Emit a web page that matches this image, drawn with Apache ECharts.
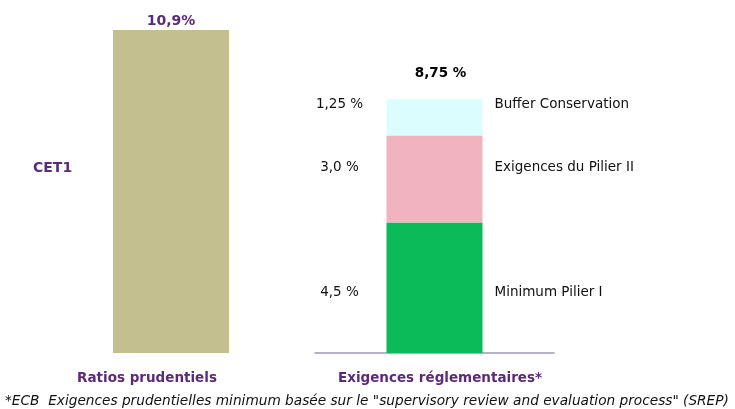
<!DOCTYPE html>
<html>
<head>
<meta charset="utf-8">
<script src="https://cdn.jsdelivr.net/npm/echarts@6/dist/echarts.min.js"></script>
<style>
    html, body { margin: 0; padding: 0; background: #fff; }
    #chart { width: 735px; height: 409px; }
</style>
</head>
<body>
<div id="chart"></div>
<script>
// categories
const categories = ['Ratios prudentiels', 'Exigences réglementaires*']
// ratio CET1 (barre de gauche)
const cet1Values = [10.9]
const cet1Label = '10,9%'
// exigences (barre empilée, du bas vers le haut)
const segmentNames = ['Minimum Pilier I', 'Exigences du Pilier II', 'Buffer Conservation']
const segmentValues = [4.5, 3.0, 1.25]
const segmentLabels = ['4,5 %', '3,0 %', '1,25 %']
const footnote = '*ECB  Exigences prudentielles minimum basée sur le "supervisory review and evaluation process" (SREP)'

const FONT = 'DejaVu Sans'
const PURPLE = '#5b2a7a'
const segmentColors = ['#0bbb59', '#f2b3c0', '#dcfdfd']
const labelDy = [70, 32, 5]

const total = segmentValues.reduce((a, b) => a + b, 0)
const frNum = v => v.toFixed(2).replace('.', ',')

const chart = echarts.init(document.getElementById('chart'))

const stackSeries = segmentValues.map((v, i) => ({
    type: 'bar',
    xAxisIndex: 1,
    yAxisIndex: 1,
    stack: 'req',
    barWidth: 96,
    data: [v],
    itemStyle: { color: segmentColors[i] },
    label: {
        show: true,
        position: [-82, labelDy[i]],
        align: 'left',
        verticalAlign: 'middle',
        formatter: '{l|' + segmentLabels[i] + '}{g|}{r|' + segmentNames[i] + '}',
        rich: {
            l: { width: 70, align: 'right', fontFamily: FONT, fontSize: 13.5, color: '#111' },
            g: { width: 120 },
            r: { align: 'left', fontFamily: FONT, fontSize: 13.5, color: '#111' }
        }
    }
}))

const titleStyle = {
    fontFamily: FONT, fontSize: 13.5, fontWeight: 'bold', color: PURPLE
}

chart.setOption({
    animation: false,
    grid: [
        { left: 113, width: 116, top: 30, height: 323 },
        { left: 315, width: 239, top: 30, height: 323 }
    ],
    xAxis: [
        {
            gridIndex: 0, type: 'category', data: [categories[0]],
            axisLine: { show: false }, axisTick: { show: false }, axisLabel: { show: false }
        },
        {
            gridIndex: 1, type: 'category', data: [categories[1]],
            axisLine: { lineStyle: { color: '#a597ba', width: 1.5 } },
            axisTick: { show: false }, axisLabel: { show: false }
        }
    ],
    yAxis: [
        { gridIndex: 0, type: 'value', min: 0, max: 10.9, show: false, splitLine: { show: false } },
        { gridIndex: 1, type: 'value', min: 0, max: 11.14, show: false, splitLine: { show: false } }
    ],
    title: [
        {
            text: 'CET1', left: 33, top: 161, padding: 0,
            textStyle: { ...titleStyle, fontSize: 14 }
        },
        {
            text: categories[0], left: 147, top: 371, padding: 0, textAlign: 'center',
            textStyle: titleStyle
        },
        {
            text: categories[1], left: 440, top: 371, padding: 0, textAlign: 'center',
            textStyle: titleStyle
        },
        {
            text: footnote, left: 5, top: 394, padding: 0,
            textStyle: { fontFamily: FONT, fontSize: 13.7, fontWeight: 'normal', fontStyle: 'italic', color: '#111' }
        }
    ],
    series: [
        {
            type: 'bar',
            xAxisIndex: 0,
            yAxisIndex: 0,
            barWidth: '100%',
            data: cet1Values,
            itemStyle: { color: '#c4bf8e' },
            label: {
                show: true, position: 'top', distance: 2,
                formatter: cet1Label,
                fontFamily: FONT, fontSize: 14, fontWeight: 'bold', color: PURPLE
            }
        },
        ...stackSeries,
        {
            type: 'bar',
            xAxisIndex: 1,
            yAxisIndex: 1,
            stack: 'req',
            barWidth: 96,
            data: [0],
            itemStyle: { color: 'transparent' },
            label: {
                show: true, position: 'top', distance: 19, offset: [6, 0],
                formatter: frNum(total) + ' %',
                fontFamily: FONT, fontSize: 13.5, fontWeight: 'bold', color: '#000'
            }
        }
    ]
})
</script>
</body>
</html>
